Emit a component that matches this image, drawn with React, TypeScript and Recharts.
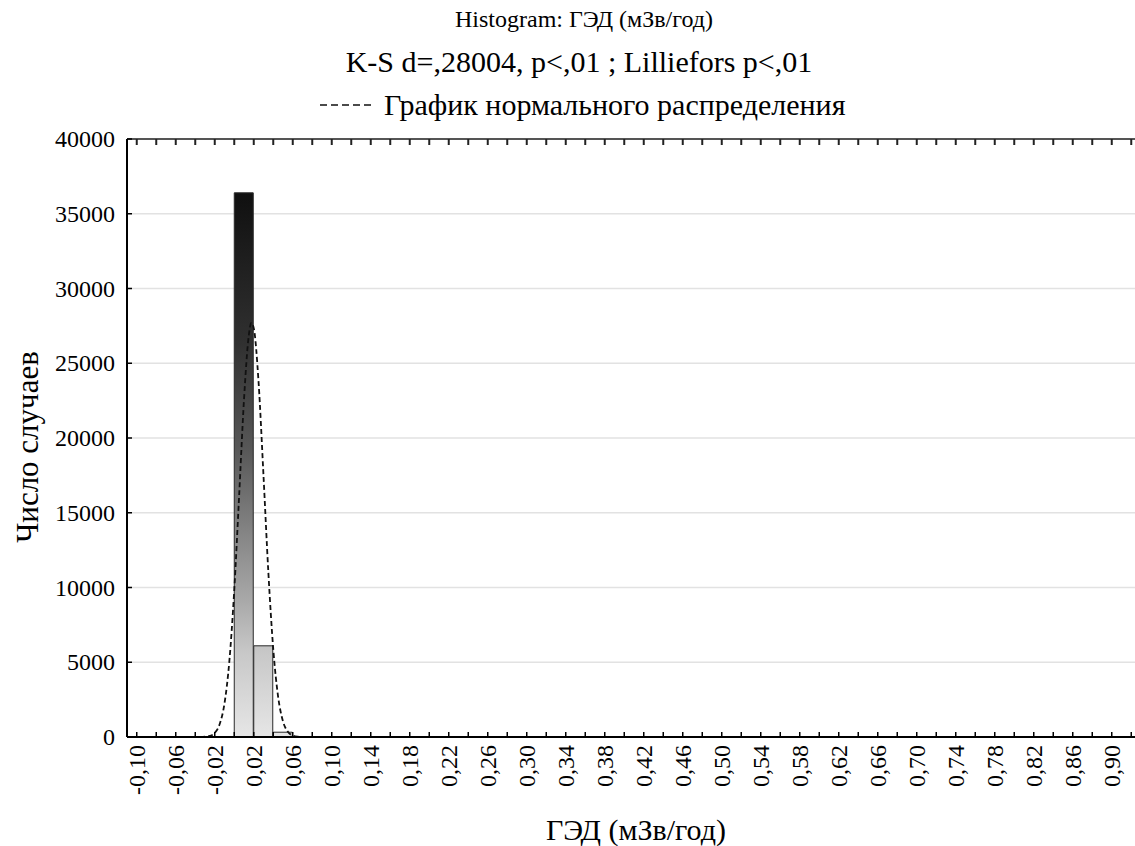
import React from 'react';
import { ComposedChart, Bar, Line, XAxis, YAxis, CartesianGrid, Rectangle } from 'recharts';

// Histogram bins (centre of each 0.02-wide bin) and case counts
const binCenters = [
  -0.09, -0.07, -0.05, -0.03, -0.01, 0.01, 0.03, 0.05, 0.07, 0.09,
  0.11, 0.13, 0.15, 0.17, 0.19, 0.21, 0.23, 0.25, 0.27, 0.29,
  0.31, 0.33, 0.35, 0.37, 0.39, 0.41, 0.43, 0.45, 0.47, 0.49,
  0.51, 0.53, 0.55, 0.57, 0.59, 0.61, 0.63, 0.65, 0.67, 0.69,
  0.71, 0.73, 0.75, 0.77, 0.79, 0.81, 0.83, 0.85, 0.87, 0.89, 0.91,
];
const binCounts = [
  0, 0, 0, 0, 0, 36400, 6100, 320, 0, 0,
  0, 0, 0, 0, 0, 0, 0, 0, 0, 0,
  0, 0, 0, 0, 0, 0, 0, 0, 0, 0,
  0, 0, 0, 0, 0, 0, 0, 0, 0, 0,
  0, 0, 0, 0, 0, 0, 0, 0, 0, 0, 0,
];

// Normal distribution curve
const curveX = [-0.035, -0.03, -0.025, -0.02, -0.015, -0.01, -0.005, 0, 0.005, 0.01, 0.015, 0.0175, 0.02, 0.025, 0.03, 0.035, 0.04, 0.045, 0.05, 0.055, 0.06, 0.065, 0.07, 0.075];
const curveY = [0, 17, 75, 273, 850, 2250, 5090, 9820, 16130, 22570, 26910, 27700, 27350, 23680, 17470, 10990, 5890, 2690, 1045, 346, 98, 24, 5, 0];

// Axis ticks
const xMinorTicks = [
  -0.10, -0.08, -0.06, -0.04, -0.02, 0, 0.02, 0.04, 0.06, 0.08,
  0.10, 0.12, 0.14, 0.16, 0.18, 0.20, 0.22, 0.24, 0.26, 0.28,
  0.30, 0.32, 0.34, 0.36, 0.38, 0.40, 0.42, 0.44, 0.46, 0.48,
  0.50, 0.52, 0.54, 0.56, 0.58, 0.60, 0.62, 0.64, 0.66, 0.68,
  0.70, 0.72, 0.74, 0.76, 0.78, 0.80, 0.82, 0.84, 0.86, 0.88, 0.90, 0.92,
];
const xLabelTicks = [
  -0.10, -0.06, -0.02, 0.02, 0.06, 0.10, 0.14, 0.18, 0.22, 0.26,
  0.30, 0.34, 0.38, 0.42, 0.46, 0.50, 0.54, 0.58, 0.62, 0.66,
  0.70, 0.74, 0.78, 0.82, 0.86, 0.90,
];
const yTicks = [0, 5000, 10000, 15000, 20000, 25000, 30000, 35000, 40000];

const titleText = 'Histogram: ГЭД (мЗв/год)';
const subtitleText = 'K-S d=,28004, p<,01 ; Lilliefors p<,01';
const legendText = 'График нормального распределения';
const xTitle = 'ГЭД (мЗв/год)';
const yTitle = 'Число случаев';

const bins = binCenters.map((x, i) => ({ x, count: binCounts[i] }));
const curve = curveX.map((x, i) => ({ x, y: curveY[i] }));

const FONT = '"Liberation Serif", "Times New Roman", serif';
const X_DOMAIN: [number, number] = [-0.11, 0.93];

const isLabelled = (v: number) => xLabelTicks.some((t) => Math.abs(t - v) < 1e-6);
const fmt = (v: number) => v.toFixed(2).replace('.', ',');

const BottomTick = (props: any) => {
  const { x, y, payload } = props;
  const v = payload.value as number;
  return (
    <g>
      <line x1={x} x2={x} y1={y} y2={y - 5} stroke="#000" strokeWidth={1.5} />
      {isLabelled(v) && (
        <text
          x={x}
          y={y + 8}
          transform={`rotate(-90, ${x}, ${y + 8})`}
          textAnchor="end"
          dominantBaseline="central"
          fontFamily={FONT}
          fontSize={24}
          fill="#000"
        >
          {fmt(v)}
        </text>
      )}
    </g>
  );
};

const TopTick = (props: any) => {
  const { x, y } = props;
  return <line x1={x} x2={x} y1={y} y2={y + 6} stroke="#222" strokeWidth={2} />;
};

const LeftTick = (props: any) => {
  const { x, y, payload } = props;
  return (
    <g>
      <line x1={x} x2={x + 5} y1={y} y2={y} stroke="#000" strokeWidth={1.5} />
      <text x={x - 12} y={y} textAnchor="end" dominantBaseline="central" fontFamily={FONT} fontSize={24} fill="#000">
        {payload.value}
      </text>
    </g>
  );
};

const BinShape = (props: any) => {
  const { height, width } = props;
  if (!height || !width || !(height > 0.01)) return null;
  return <Rectangle {...props} />;
};

export default function App() {
  return (
    <div
      style={{
        position: 'absolute',
        left: 0,
        top: 0,
        width: 1135,
        height: 846,
        overflow: 'hidden',
        background: '#fff',
        fontFamily: FONT,
        color: '#000',
      }}
    >
      <div style={{ position: 'absolute', left: 284, width: 600, top: 6, textAlign: 'center', fontSize: 24, lineHeight: '26px' }}>
        {titleText}
      </div>
      <div style={{ position: 'absolute', left: 179, width: 800, top: 46, textAlign: 'center', fontSize: 30, lineHeight: '32px' }}>
        {subtitleText}
      </div>
      <div style={{ position: 'absolute', left: 320, top: 89, fontSize: 30, lineHeight: '32px', whiteSpace: 'nowrap', display: 'flex', alignItems: 'center' }}>
        <svg width={52} height={4} style={{ marginRight: 12 }}>
          <line x1={0} x2={52} y1={2} y2={2} stroke="#111" strokeWidth={1.5} strokeDasharray="7 4" />
        </svg>
        <span>{legendText}</span>
      </div>
      <div style={{ position: 'absolute', left: 336, width: 600, top: 814, textAlign: 'center', fontSize: 30, lineHeight: '32px' }}>
        {xTitle}
      </div>
      <div
        style={{
          position: 'absolute',
          left: 28 - 150,
          top: 447 - 16,
          width: 300,
          textAlign: 'center',
          fontSize: 31,
          lineHeight: '32px',
          transform: 'rotate(-90deg)',
        }}
      >
        {yTitle}
      </div>
      <div style={{ position: 'absolute', left: 0, top: 0 }}>
        <ComposedChart
          width={1145}
          height={846}
          data={bins}
          margin={{ top: 138, left: 126, right: 4, bottom: 108 }}
          barCategoryGap={0}
          barGap={0}
        >
          <defs>
            <linearGradient id="barGrad" gradientUnits="userSpaceOnUse" x1={0} y1={139} x2={0} y2={737}>
              <stop offset="0" stopColor="#0a0a0a" />
              <stop offset="0.1" stopColor="#111111" />
              <stop offset="0.34" stopColor="#303030" />
              <stop offset="0.52" stopColor="#585858" />
              <stop offset="0.77" stopColor="#a8a8a8" />
              <stop offset="0.86" stopColor="#c8c8c8" />
              <stop offset="1" stopColor="#e6e6e6" />
            </linearGradient>
          </defs>
          <CartesianGrid horizontal vertical={false} stroke="#e2e2e2" strokeWidth={1.5} />
          <XAxis
            xAxisId="main"
            dataKey="x"
            type="number"
            domain={X_DOMAIN}
            allowDataOverflow
            ticks={xMinorTicks}
            interval={0}
            tickSize={0}
            tickMargin={0}
            tickLine={false}
            tick={<BottomTick />}
            height={1}
            axisLine={{ stroke: '#000', strokeWidth: 2 }}
          />
          <XAxis
            xAxisId="top"
            orientation="top"
            dataKey="x"
            type="number"
            domain={X_DOMAIN}
            allowDataOverflow
            ticks={xMinorTicks}
            interval={0}
            tickSize={0}
            tickMargin={0}
            tickLine={false}
            tick={<TopTick />}
            height={1}
            axisLine={{ stroke: '#555', strokeWidth: 2 }}
          />
          <XAxis xAxisId="curve" dataKey="x" type="number" domain={X_DOMAIN} allowDataOverflow hide height={0} />
          <YAxis
            type="number"
            domain={[0, 40000]}
            ticks={yTicks}
            interval={0}
            width={1}
            tickSize={0}
            tickMargin={0}
            tickLine={false}
            tick={<LeftTick />}
            axisLine={{ stroke: '#000', strokeWidth: 2 }}
          />
          <Bar
            xAxisId="main"
            dataKey="count"
            fill="url(#barGrad)"
            stroke="#2a2a2a"
            strokeWidth={1}
            shape={<BinShape />}
            isAnimationActive={false}
          />
          <Line
            xAxisId="curve"
            data={curve}
            dataKey="y"
            type="monotone"
            stroke="#111"
            strokeWidth={1.8}
            strokeDasharray="5 3"
            dot={false}
            activeDot={false}
            isAnimationActive={false}
          />
        </ComposedChart>
      </div>
    </div>
  );
}
